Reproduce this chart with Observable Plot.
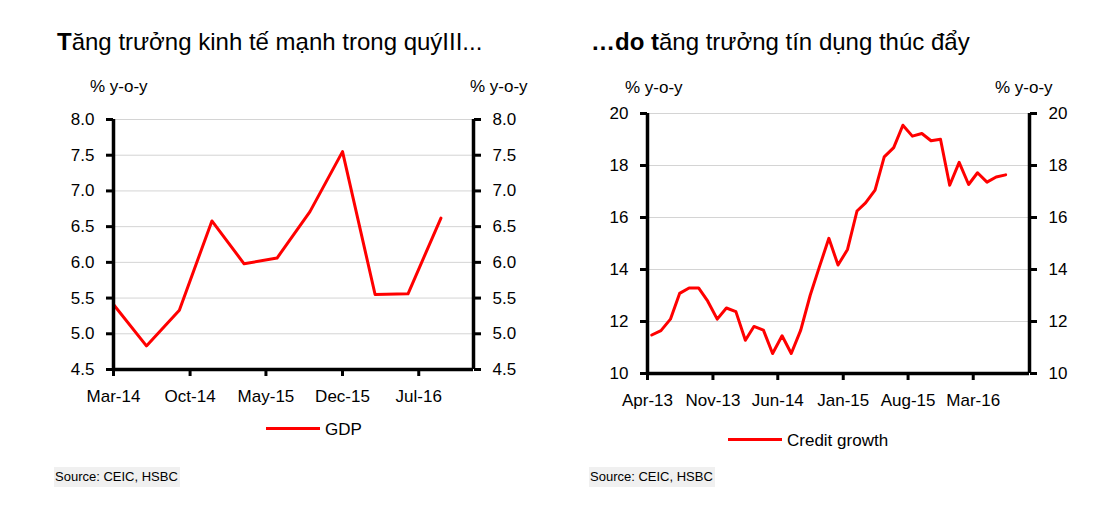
<!DOCTYPE html>
<html><head><meta charset="utf-8">
<script src="https://cdn.jsdelivr.net/npm/d3@7"></script>
<script src="https://cdn.jsdelivr.net/npm/@observablehq/plot@0.6"></script>
<style>
body{margin:0;background:#fff;font-family:"Liberation Sans",Arial,sans-serif;}
#root{position:relative;width:1096px;height:510px;overflow:hidden;background:#fff;}
.t{position:absolute;white-space:nowrap;line-height:1;color:#000;}
.title{font-size:24px;}
.unit{font-size:17px;}
.leg{font-size:17px;}
.legline{position:absolute;height:3px;background:#ff0000;}
.src{position:absolute;font-size:13px;line-height:20px;height:20px;background:#f0f0f0;padding:0 2px 0 1px;white-space:nowrap;color:#000;}
.chart{position:absolute;}
</style></head><body><div id="root">
<div class="t title" style="left:57px;top:30px;"><b>T</b>ăng trưởng kinh tế mạnh trong quýIII...</div>
<div class="t title" style="left:591px;top:30px;"><b>…do t</b>ăng trưởng tín dụng thúc đẩy</div>
<div class="t unit" style="left:90px;top:78px;">% y-o-y</div>
<div class="t unit" style="left:470px;top:78px;">% y-o-y</div>
<div class="t unit" style="left:625px;top:79px;">% y-o-y</div>
<div class="t unit" style="left:995px;top:79px;">% y-o-y</div>
<div id="c1" class="chart" style="left:0;top:100px;"></div>
<div id="c2" class="chart" style="left:560px;top:100px;"></div>
<div class="legline" style="left:266px;top:427px;width:54px;"></div>
<div class="t leg" style="left:325px;top:421px;">GDP</div>
<div class="legline" style="left:728px;top:438px;width:54px;"></div>
<div class="t leg" style="left:787px;top:432px;">Credit growth</div>
<div class="src" style="left:54px;top:467px;">Source: CEIC, HSBC</div>
<div class="src" style="left:589px;top:467px;">Source: CEIC, HSBC</div>
</div>
<script>
// ---- Left chart: GDP growth (% y-o-y), quarterly ----
const gdpQuarters = ["Mar-14","Jun-14","Sep-14","Dec-14","Mar-15","Jun-15","Sep-15","Dec-15","Mar-16","Jun-16","Sep-16"];
const gdpValues = [5.41,4.83,5.33,6.58,5.98,6.06,6.71,7.55,5.55,5.56,6.62];
const gdpXTickLabels = ["Mar-14","Oct-14","May-15","Dec-15","Jul-16"];
const gdpYTicks = [4.5,5.0,5.5,6.0,6.5,7.0,7.5,8.0];
const gdpXDomain = ["Mar-14","Dec-16"];

// ---- Right chart: Credit growth (% y-o-y), monthly ----
const creditMonths = ["Apr-13","May-13","Jun-13","Jul-13","Aug-13","Sep-13","Oct-13","Nov-13","Dec-13",
  "Jan-14","Feb-14","Mar-14","Apr-14","May-14","Jun-14","Jul-14","Aug-14","Sep-14","Oct-14","Nov-14","Dec-14",
  "Jan-15","Feb-15","Mar-15","Apr-15","May-15","Jun-15","Jul-15","Aug-15","Sep-15","Oct-15","Nov-15","Dec-15",
  "Jan-16","Feb-16","Mar-16","Apr-16","May-16","Jun-16"];
const creditValues = [11.48,11.65,12.09,13.08,13.29,13.29,12.78,12.09,12.52,
  12.38,11.28,11.81,11.67,10.77,11.45,10.77,11.67,13.01,14.10,15.20,14.17,
  14.77,16.25,16.56,17.05,18.33,18.69,19.55,19.13,19.23,18.95,19.01,17.24,
  18.12,17.27,17.72,17.36,17.56,17.64];
const creditXTickLabels = ["Apr-13","Nov-13","Jun-14","Jan-15","Aug-15","Mar-16"];
const creditYTicks = [10,12,14,16,18,20];
const creditXDomain = ["Apr-13","Sep-16"];

const parse = d3.timeParse("%b-%y");
const fmt = d3.timeFormat("%b-%y");
const font = {fontFamily:"'Liberation Sans', Arial, sans-serif", fontSize:"17px", color:"#000", background:"transparent", overflow:"visible"};
const axisOpts = {tickSize:7, tickPadding:12, strokeWidth:3, label:null, fill:"#000", stroke:"#000"};

function chart({data, xDomain, yDomain, xTicks, yTicks, yFmt, width, height, margins}) {
  const xd = xDomain.map(parse);
  return Plot.plot({
    width, height, ...margins,
    style: font,
    x: {type:"time", domain: xd},
    y: {domain: yDomain},
    marks: [
      Plot.gridY(yTicks, {stroke:"#d4d4d4", strokeOpacity:1, strokeWidth:1}),
      Plot.line(data, {x:"date", y:"value", stroke:"#ff0000", strokeWidth:3}),
      Plot.ruleX(xd, {stroke:"#000", strokeWidth:3.5}),
      Plot.ruleY([yDomain[0]], {stroke:"#000", strokeWidth:3.5}),
      Plot.axisY(yTicks, {...axisOpts, anchor:"left", tickFormat:yFmt}),
      Plot.axisY(yTicks, {...axisOpts, anchor:"right", tickFormat:yFmt}),
      Plot.axisX(xTicks.map(parse), {...axisOpts, anchor:"bottom", tickPadding:13, tickFormat:fmt})
    ]
  });
}

const gdp = gdpQuarters.map((q, i) => ({date: parse(q), value: gdpValues[i]}));
document.getElementById("c1").append(chart({
  data: gdp, xDomain: gdpXDomain, yDomain: [gdpYTicks[0], gdpYTicks[gdpYTicks.length-1]],
  xTicks: gdpXTickLabels, yTicks: gdpYTicks, yFmt: d => d.toFixed(1),
  width: 540, height: 320,
  margins: {marginLeft:113, marginRight:67, marginTop:19, marginBottom:51}
}));

const credit = creditMonths.map((m, i) => {
  const p = parse(m);
  return {date: new Date(p.getFullYear(), p.getMonth(), 15), value: creditValues[i]};
});
document.getElementById("c2").append(chart({
  data: credit, xDomain: creditXDomain, yDomain: [creditYTicks[0], creditYTicks[creditYTicks.length-1]],
  xTicks: creditXTickLabels, yTicks: creditYTicks, yFmt: d => String(d),
  width: 520, height: 320,
  margins: {marginLeft:87, marginRight:51, marginTop:13, marginBottom:47}
}));
</script>
</body></html>
